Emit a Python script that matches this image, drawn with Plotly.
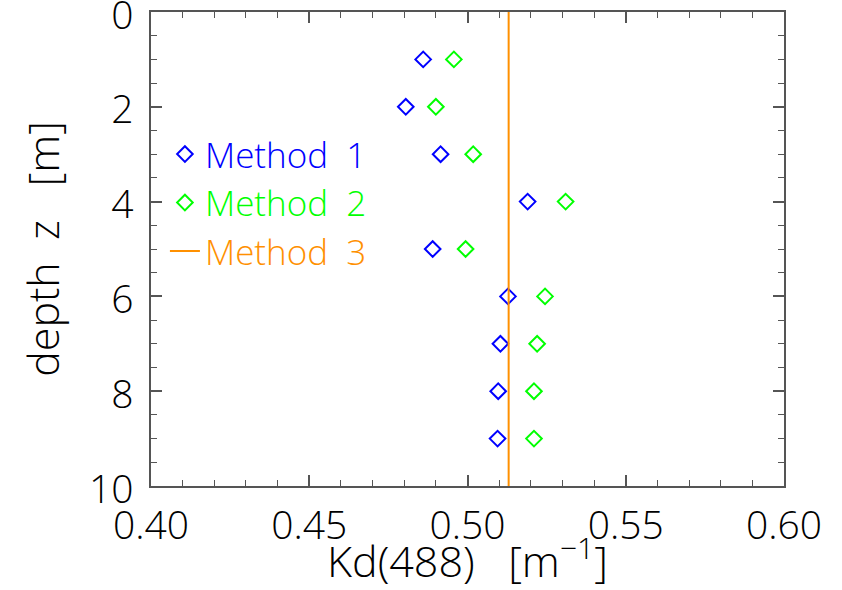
import plotly.graph_objects as go

depth = [1, 2, 3, 4, 5, 6, 7, 8, 9]
method1 = [0.486, 0.4805, 0.4915, 0.519, 0.489, 0.5128, 0.5104, 0.5097, 0.5095]
method2 = [0.4957, 0.490, 0.5018, 0.531, 0.4994, 0.5245, 0.522, 0.521, 0.521]
method3_value = 0.513
depth_range = [0, 10]

x_ticks = [0.40, 0.45, 0.50, 0.55, 0.60]
x_ticktext = ["0.40", "0.45", "0.50", "0.55", "0.60"]
y_ticks = [0, 2, 4, 6, 8, 10]

FONT = "Open Sans"
BLUE = "#0000FF"
GREEN = "#00FF00"
ORANGE = "#FF9000"
AXC = "#555555"


def colored(name, color):
    return f"<span style='color:{color}'>{name}</span>"


fig = go.Figure()
fig.add_trace(go.Scatter(
    x=method1, y=depth, mode="markers", name=colored("Method  1", BLUE),
    marker=dict(symbol="diamond-open", size=12, color=BLUE, line=dict(width=2, color=BLUE)),
))
fig.add_trace(go.Scatter(
    x=method2, y=depth, mode="markers", name=colored("Method  2", GREEN),
    marker=dict(symbol="diamond-open", size=12, color=GREEN, line=dict(width=2, color=GREEN)),
))
fig.add_trace(go.Scatter(
    x=[method3_value, method3_value], y=depth_range, mode="lines", name=colored("Method  3", ORANGE),
    line=dict(color=ORANGE, width=2),
))

fig.update_layout(
    width=842, height=590,
    margin=dict(l=151, r=58, t=12, b=104, autoexpand=False),
    paper_bgcolor="white", plot_bgcolor="white",
    font=dict(family=FONT, size=34, color="black", weight=300),
    showlegend=True,
    legend=dict(
        x=0.022, y=0.762, xanchor="left", yanchor="top",
        bgcolor="rgba(0,0,0,0)", borderwidth=0,
        font=dict(size=35, weight=300), itemsizing="trace", tracegroupgap=0,
    ),
    xaxis=dict(
        range=[0.40, 0.60], tickvals=x_ticks, ticktext=x_ticktext,
        showgrid=False, zeroline=False, automargin=False,
        showline=True, linecolor=AXC, linewidth=1.5, mirror="ticks",
        ticks="inside", ticklen=11, tickwidth=1.5, tickcolor=AXC,
        minor=dict(ticks="inside", dtick=0.01, ticklen=6, tickwidth=1.2, tickcolor=AXC),
        tickfont=dict(size=39, color="black", weight=300),
        ticklabelstandoff=4, ticklabeloverflow="allow",
        title=dict(text="Kd(488)   [m<sup>−1</sup>]", standoff=12, font=dict(size=43, weight=300)),
    ),
    yaxis=dict(
        range=[10, 0], tickvals=y_ticks,
        showgrid=False, zeroline=False, automargin=False,
        showline=True, linecolor=AXC, linewidth=1.5, mirror="ticks",
        ticks="inside", ticklen=11, tickwidth=1.5, tickcolor=AXC,
        minor=dict(ticks="inside", dtick=0.5, ticklen=6, tickwidth=1.2, tickcolor=AXC),
        tickfont=dict(size=39, color="black", weight=300),
        ticklabelstandoff=8, ticklabeloverflow="allow", ticklabelshift=-3,
        title=dict(text="depth  z   [m]", standoff=16, font=dict(size=43, weight=300)),
    ),
)

# remove the default 8px page margin so the figure sits at the window's top-left corner
fig.write_html(
    "out.html",
    config={"displayModeBar": False},
    post_script="document.body.style.margin='0';",
)
